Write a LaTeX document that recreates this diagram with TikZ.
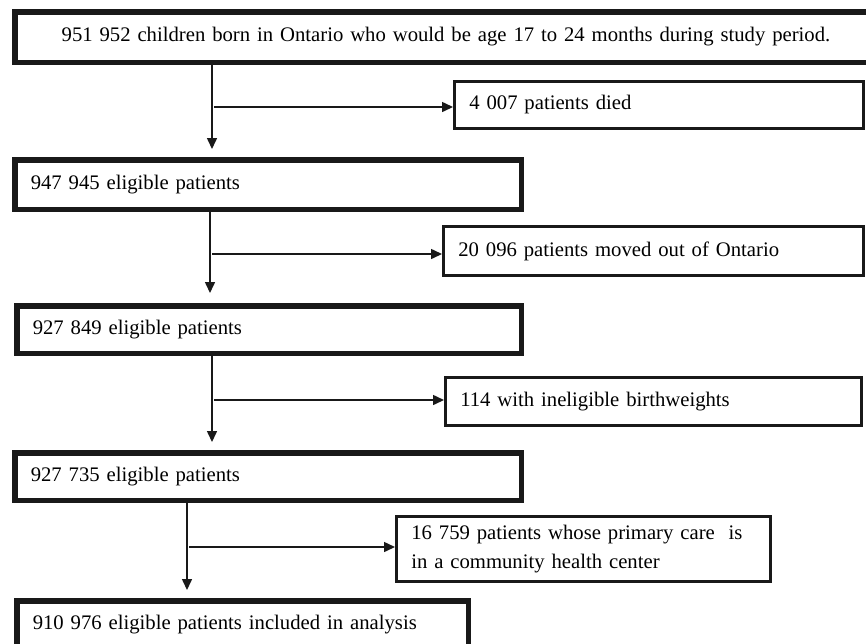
\documentclass[tikz,border=0pt]{standalone}
\usepackage{fontspec}
\setmainfont{Liberation Serif}
\usetikzlibrary{arrows.meta}

\begin{document}
\begin{tikzpicture}[x=1pt,y=-1pt,
    main_box/.style={draw=black!90,line width=5.5pt,anchor=north west,inner xsep=16pt,inner ysep=0pt,align=left,font=\fontsize{20.7}{29}\selectfont},
    side_box/.style={draw=black!90,line width=2.6pt,anchor=north west,inner xsep=15pt,inner ysep=0pt,align=left,font=\fontsize{20.7}{29}\selectfont},
    flow_arrow/.style={draw=black!90,line width=1.5pt,-{Triangle[length=11pt,width=10pt]}}]

    \clip (0,0) rectangle (866,643);

    \node[main_box, text width=830.5pt, minimum height=50.5pt, align=center] (born) at (12,9) {951 952 children born in Ontario who would be age 17 to 24 months during study period.};
    \node[main_box, text width=474.5pt, minimum height=49.5pt] (elig1) at (12,157) {947 945 eligible patients};
    \node[main_box, text width=472.5pt, minimum height=47.5pt] (elig2) at (14,303) {927 849 eligible patients};
    \node[main_box, text width=474.5pt, minimum height=47.5pt] (elig3) at (12,450) {927 735 eligible patients};
    \node[main_box, text width=419.5pt, minimum height=47.5pt] (final) at (14,598) {910 976 eligible patients included in analysis};

    \node[side_box, text width=379.4pt, minimum height=47.4pt] (died) at (453,80) {4 007 patients died};
    \node[side_box, text width=390.4pt, minimum height=49.4pt] (moved) at (442,225) {20 096 patients moved out of Ontario};
    \node[side_box, text width=386.4pt, minimum height=48.4pt] (bw) at (444,376) {114 with ineligible birthweights};
    \node[side_box, text width=344.4pt, minimum height=65.4pt] (chc) at (395,515) {16 759 patients whose primary care\ \ is\\in a community health center};

    \coordinate (s1) at (212,107);
    \coordinate (s2) at (210,254);
    \coordinate (s3) at (212,400);
    \coordinate (s4) at (187,547);

    \draw[flow_arrow, shorten >=8pt] (born.south -| s1) -- (elig1.north -| s1);
    \draw[flow_arrow, shorten >=10pt] (elig1.south -| s2) -- (elig2.north -| s2);
    \draw[flow_arrow, shorten >=8pt] (elig2.south -| s3) -- (elig3.north -| s3);
    \draw[flow_arrow, shorten >=8pt] (elig3.south -| s4) -- (final.north -| s4);

    \draw[flow_arrow] ([xshift=2pt]s1) -- (s1 -| died.west);
    \draw[flow_arrow] ([xshift=2pt]s2) -- (s2 -| moved.west);
    \draw[flow_arrow] ([xshift=2pt]s3) -- (s3 -| bw.west);
    \draw[flow_arrow] ([xshift=2pt]s4) -- (s4 -| chc.west);

\end{tikzpicture}
\end{document}
